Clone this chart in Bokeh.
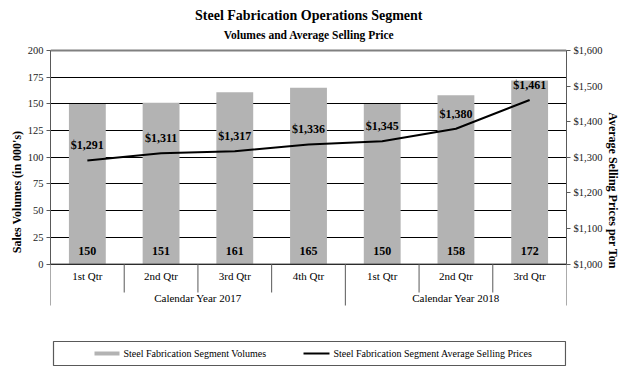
from bokeh.plotting import figure
from bokeh.models import (Range1d, LinearAxis, Grid, FixedTicker, NumeralTickFormatter,
                          ColumnDataSource)
from bokeh.core.properties import value
from bokeh.embed import file_html
from bokeh.resources import INLINE

# ---- data ----
quarters = ["1st Qtr", "2nd Qtr", "3rd Qtr", "4th Qtr", "1st Qtr", "2nd Qtr", "3rd Qtr"]
years = ["Calendar Year 2017", "Calendar Year 2018"]
year_counts = [4, 3]
volumes = [150, 151, 161, 165, 150, 158, 172]
prices = [1291, 1311, 1317, 1336, 1345, 1380, 1461]
vol_ticks = [0, 25, 50, 75, 100, 125, 150, 175, 200]
price_ticks = [1000, 1100, 1200, 1300, 1400, 1500, 1600]

FONT = value("Liberation Serif")
AX = "#595959"
BAR = "#b3b3b3"

# page-pixel helpers (layout only)
Y0, SCALE = 263.5, 1.0675       # page y of 0 and px per volume unit
FL, FR = 50, 566                # frame left/right page x
def py(y):
    return (Y0 - y) / SCALE
def px(x):
    return (x - FL) / (FR - FL) * len(quarters)

W, H = 625, 383
ystart, yend = py(H), py(0)
p = figure(width=W, height=H, output_backend="svg", toolbar_location=None,
           x_range=Range1d(0, len(quarters)), y_range=Range1d(ystart, yend),
           x_axis_location=None, y_axis_location=None,
           min_border_left=FL, min_border_right=W - FR, min_border_top=0, min_border_bottom=0)
p.outline_line_color = None
p.xgrid.visible = False
p.ygrid.visible = False

# price range linked linearly: 0 -> 1000, 200 -> 1600
k = 600 / 200
p.extra_y_ranges = {"price": Range1d(1000 + k * ystart, 1000 + k * yend)}

left = LinearAxis(bounds=(0, 200), ticker=FixedTicker(ticks=vol_ticks),
                  axis_label="Sales Volumes (in 000's)")
right = LinearAxis(y_range_name="price", bounds=(1000, 1600),
                   ticker=FixedTicker(ticks=price_ticks),
                   formatter=NumeralTickFormatter(format="$0,0"),
                   axis_label="Average  Selling Prices per Ton")
for ax in (left, right):
    ax.axis_line_color = AX
    ax.major_tick_line_color = AX
    ax.major_tick_out = 4
    ax.major_tick_in = 0
    ax.minor_tick_line_color = None
    ax.major_label_text_font = "Liberation Serif"
    ax.major_label_text_font_size = "10.5px"
    ax.major_label_text_color = "#222222"
    ax.major_label_standoff = 3
    ax.axis_label_text_font = "Liberation Serif"
    ax.axis_label_text_font_style = "bold"
    ax.axis_label_text_font_size = "12px"
    ax.axis_label_text_color = "black"
left.axis_label_standoff = 1
right.axis_label_standoff = 1
p.add_layout(left, "left")
p.add_layout(right, "right")

grid = Grid(dimension=1, ticker=left.ticker, bounds=(0, 200),
            grid_line_color="black", grid_line_width=1)
p.add_layout(grid)

xs = [i + 0.5 for i in range(len(quarters))]
src = ColumnDataSource(dict(x=xs, vol=volumes, price=prices,
                            vlab=[str(v) for v in volumes]))

# top border line at 200 (gray, thicker)
p.segment(x0=[0], y0=[200], x1=[len(quarters)], y1=[200], line_color="#808080", line_width=2)

p.vbar(x="x", top="vol", bottom=0, width=0.5, source=src, fill_color=BAR, line_color=None)
p.line(x="x", y="price", source=src, y_range_name="price", line_color="black", line_width=2)

p.text(x="x", y=py(250), text="vlab", source=src, text_font=FONT, text_font_style="bold",
       text_font_size="12px", text_align="center", text_baseline="middle", text_color="black")
src2 = ColumnDataSource(dict(x=xs, y=[v + 15 / SCALE * k for v in prices],
                             t=["${:,}".format(v) for v in prices]))
p.text(x="x", y="y", text="t", source=src2, y_range_name="price", text_font=FONT,
       text_font_style="bold", text_font_size="12px", text_align="center",
       text_baseline="middle", text_color="black")

# category axis separators
n = len(quarters)
bounds_year = [0]
for c in year_counts:
    bounds_year.append(bounds_year[-1] + c)
inner = [i for i in range(1, n) if i not in bounds_year]
p.segment(x0=inner, y0=[0] * len(inner), x1=inner, y1=[py(292)] * len(inner),
          line_color=AX, line_width=1)
p.segment(x0=bounds_year, y0=[0] * len(bounds_year), x1=bounds_year,
          y1=[py(305)] * len(bounds_year), line_color=AX, line_width=1)
p.segment(x0=[0], y0=[0], x1=[n], y1=[0], line_color=AX, line_width=1)

p.text(x=xs, y=[py(275)] * n, text=quarters, text_font=FONT, text_font_size="11px",
       text_align="center", text_baseline="middle", text_color="black")
ymid = [(bounds_year[i] + bounds_year[i + 1]) / 2 for i in range(len(years))]
p.text(x=ymid, y=[py(297)] * len(years), text=years, text_font=FONT, text_font_size="11px",
       text_align="center", text_baseline="middle", text_color="black")

# titles
p.text(x=[px(310)], y=[py(15)], text=["Steel Fabrication  Operations Segment"], text_font=FONT,
       text_font_style="bold", text_font_size="14px", text_align="center",
       text_baseline="middle", text_color="black")
p.text(x=[px(310)], y=[py(34)], text=["Volumes and Average  Selling Price"], text_font=FONT,
       text_font_style="bold", text_font_size="11.5px", text_align="center",
       text_baseline="middle", text_color="black")

# legend box
p.quad(left=[px(53)], right=[px(565)], top=[py(341)], bottom=[py(365)],
       fill_color="white", line_color=AX, line_width=1.2)
p.segment(x0=[px(94)], y0=[py(353)], x1=[px(119)], y1=[py(353)], line_color=BAR, line_width=4)
p.segment(x0=[px(303)], y0=[py(353)], x1=[px(329)], y1=[py(353)], line_color="black", line_width=2)
p.text(x=[px(123), px(333)], y=[py(353), py(353)],
       text=["Steel Fabrication Segment Volumes", "Steel Fabrication Segment Average Selling Prices"],
       text_font=FONT, text_font_size="10px", text_align="left", text_baseline="middle",
       text_color="black")

open("out.html", "w").write(file_html(p, INLINE))
